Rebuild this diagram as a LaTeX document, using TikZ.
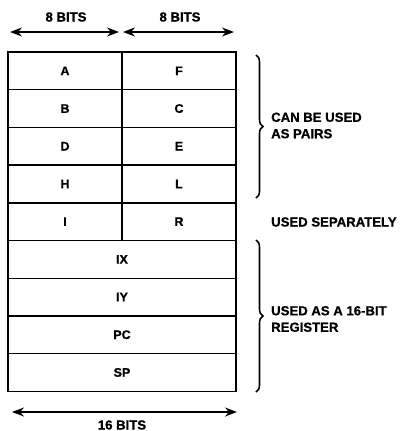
\documentclass[tikz,border=0pt]{standalone}
\usepackage{fontspec}
\setmainfont{Liberation Sans}[BoldFeatures={FakeBold=0.8}]
\usetikzlibrary{arrows.meta,decorations.pathreplacing}
\tikzset{
  reg/.style={draw, line width=1.4pt, rectangle, inner sep=0pt, outer sep=0pt,
    minimum height=37.7bp, font=\bfseries\fontsize{12.5}{14}\selectfont},
  half/.style={reg, minimum width=114bp},
  full/.style={reg, minimum width=228bp},
  lbl/.style={font=\bfseries\fontsize{13.2}{16.5}\selectfont, inner sep=0pt, align=left},
  dim/.style={line width=1.5pt, {Stealth[length=12bp,width=9bp]}-{Stealth[length=12bp,width=9bp]}},
  brc/.style={line width=1.6pt, decorate, decoration={brace, amplitude=7bp}}
}
\begin{document}
\begin{tikzpicture}[x=1bp,y=-1bp]
\useasboundingbox (0,0) rectangle (401,431);
% 8-bit pairs
\node[half] (A) at (65,70.85) {A};
\node[half] (F) at (179,70.85) {F};
\node[half] (B) at (65,108.55) {B};
\node[half] (C) at (179,108.55) {C};
\node[half] (D) at (65,146.25) {D};
\node[half] (E) at (179,146.25) {E};
\node[half] (H) at (65,183.95) {H};
\node[half] (L) at (179,183.95) {L};
\node[half] (I) at (65,221.65) {I};
\node[half] (R) at (179,221.65) {R};
% 16-bit
\node[full] (IX) at (122,259.35) {IX};
\node[full] (IY) at (122,297.05) {IY};
\node[full] (PC) at (122,334.75) {PC};
\node[full] (SP) at (122,372.45) {SP};
% dimension arrows
\coordinate (t1a) at (10,32);
\coordinate (t1b) at (119,32);
\coordinate (t2a) at (123,32);
\coordinate (t2b) at (234,32);
\draw[dim] (t1a) -- (t1b);
\draw[dim] (t2a) -- (t2b);
\node[lbl] (b8a) at (66,17) {8 BITS};
\node[lbl] (b8b) at (180,17) {8 BITS};
\coordinate (b1) at (12,412);
\coordinate (b2) at (237,412);
\draw[dim] (b1) -- (b2);
\node[lbl] (b16) at (122,425) {16 BITS};
% braces
\coordinate (br1t) at (256,55);
\coordinate (br1b) at (256,198);
\draw[brc] (br1t) -- (br1b);
\node[lbl, anchor=west] (pairs) at (271,125.5) {CAN BE USED\\AS PAIRS};
\node[lbl, anchor=west] (sep) at (271,222) {USED SEPARATELY};
\coordinate (br2t) at (256,240);
\coordinate (br2b) at (256,392);
\draw[brc] (br2t) -- (br2b);
\node[lbl, anchor=west] (reg16) at (271,319) {USED AS A 16-BIT\\REGISTER};
\end{tikzpicture}
\end{document}
